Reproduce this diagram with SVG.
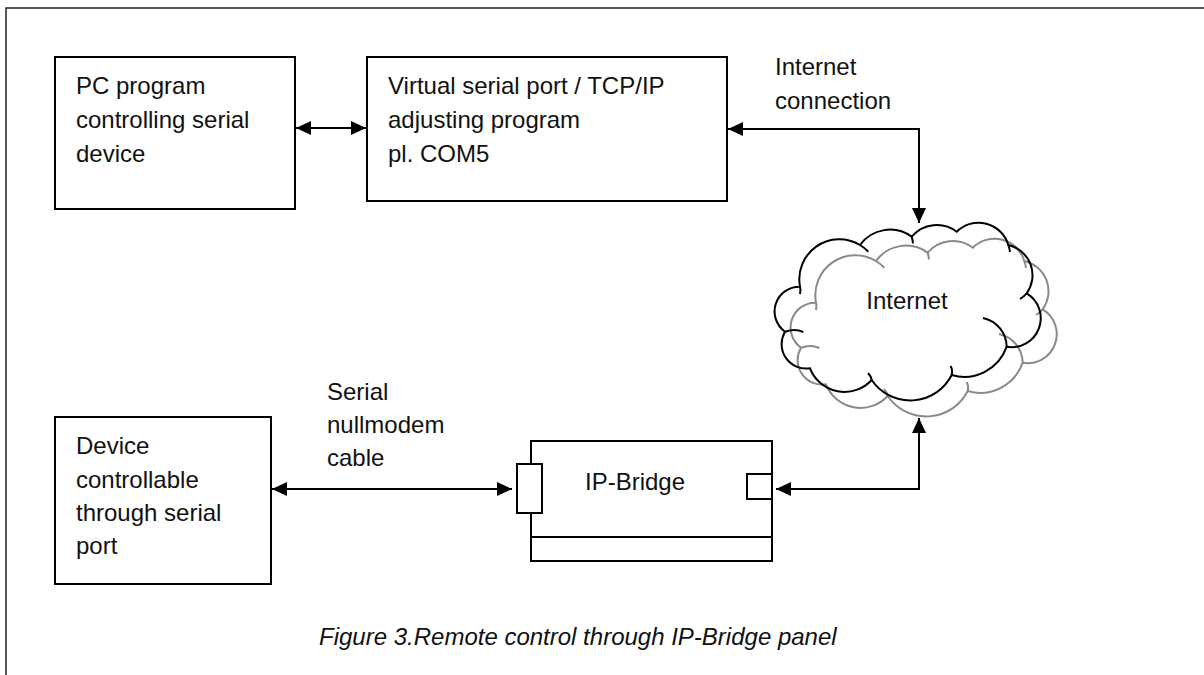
<svg xmlns="http://www.w3.org/2000/svg" width="1204" height="675" viewBox="0 0 1204 675">
<style>
  .box{fill:none;stroke:#000;stroke-width:2}
  .lbl{font-family:"Liberation Sans",Arial,sans-serif;font-size:24px;fill:#111}
  .cap{font-family:"Liberation Sans",Arial,sans-serif;font-size:24px;font-style:italic;fill:#111}
  .conn{fill:none;stroke:#000;stroke-width:2;marker-start:url(#ah);marker-end:url(#ah)}
  .cloudb{fill:none;stroke:#000;stroke-width:2}
  .cloudg{fill:none;stroke:#8a8a8a;stroke-width:2}
</style>
<defs>
  <marker id="ah" markerUnits="userSpaceOnUse" markerWidth="15" markerHeight="14" refX="15" refY="7" orient="auto-start-reverse">
    <path d="M0,0 L15,7 L0,14 Z" fill="#000"/>
  </marker>
  <g id="cloudShape">
    <path d="M800,286.7 A40,40 0 0 1 860,245 A37,37 0 0 1 911.7,236.7 A33,33 0 0 1 956.7,231.7 A31,31 0 0 1 1008.3,245 A31,31 0 0 1 1026.7,293.3 A29,29 0 0 1 1006.7,346.7 A45,45 0 0 1 951.7,375 A46.5,46.5 0 0 1 871.7,380 A37,37 0 0 1 810,368.3 A24.5,24.5 0 0 1 785,331.7 A24.8,24.8 0 0 1 800,286.7 Z"/>
    <path d="M860,245 A40,40 0 0 1 868.3,251.7"/>
    <path d="M911.7,236.7 A37,37 0 0 1 913,243.5"/>
    <path d="M1008.3,245 A31,31 0 0 1 1010,252"/>
    <path d="M1026.7,293.3 A31,31 0 0 1 1020,299"/>
    <path d="M983,318 A30,30 0 0 1 1006.7,346.7"/>
    <path d="M951.7,375 Q953,370 950.5,366"/>
    <path d="M871.7,380 Q871,376 868,373"/>
    <path d="M785,331.7 Q795,328 803.3,332"/>
    <path d="M800,286.7 Q801,290 800,294"/>
  </g>
</defs>
<g id="frame" fill="none" stroke="#222" stroke-width="1.5">
  <path d="M6,675 L6,8 L1204,8"/>
</g>
<g id="connectors">
  <path class="conn" d="M296,128 L366,128"/>
  <path class="conn" d="M728,129 L919,129 L919,223"/>
  <path class="conn" d="M272,489 L512,489"/>
  <path class="conn" d="M776,489 L919,489 L919,418"/>
</g>
<g id="cloud">
  <use href="#cloudShape" class="cloudg" transform="translate(16,16)"/>
  <use href="#cloudShape" class="cloudb"/>
  <text class="lbl" x="907" y="309" text-anchor="middle">Internet</text>
</g>
<g id="pc-program">
  <rect class="box" x="55" y="57" width="240" height="152"/>
  <text class="lbl" x="76" y="94">PC program</text>
  <text class="lbl" x="76" y="128">controlling serial</text>
  <text class="lbl" x="76" y="162">device</text>
</g>
<g id="virtual-port">
  <rect class="box" x="367" y="57" width="360" height="144"/>
  <text class="lbl" x="388" y="94">Virtual serial port / TCP/IP</text>
  <text class="lbl" x="388" y="128">adjusting program</text>
  <text class="lbl" x="388" y="162">pl. COM5</text>
</g>
<g id="internet-connection-label">
  <text class="lbl" x="775" y="75">Internet</text>
  <text class="lbl" x="775" y="109">connection</text>
</g>
<g id="device">
  <rect class="box" x="55" y="417" width="216" height="167"/>
  <text class="lbl" x="76" y="454">Device</text>
  <text class="lbl" x="76" y="488">controllable</text>
  <text class="lbl" x="76" y="521">through serial</text>
  <text class="lbl" x="76" y="554">port</text>
</g>
<g id="serial-cable-label">
  <text class="lbl" x="327" y="400">Serial</text>
  <text class="lbl" x="327" y="433">nullmodem</text>
  <text class="lbl" x="327" y="466">cable</text>
</g>
<g id="ip-bridge">
  <rect class="box" x="531" y="441" width="241" height="120"/>
  <line x1="531" y1="537" x2="772" y2="537" stroke="#000" stroke-width="2"/>
  <rect x="517" y="464" width="25" height="49" fill="#fff" stroke="#000" stroke-width="2"/>
  <rect x="747" y="474" width="25" height="25" fill="#fff" stroke="#000" stroke-width="2"/>
  <text class="lbl" x="585" y="490">IP-Bridge</text>
</g>
<g id="caption">
  <text class="cap" x="319" y="645">Figure 3.Remote control through IP-Bridge panel</text>
</g>
</svg>
